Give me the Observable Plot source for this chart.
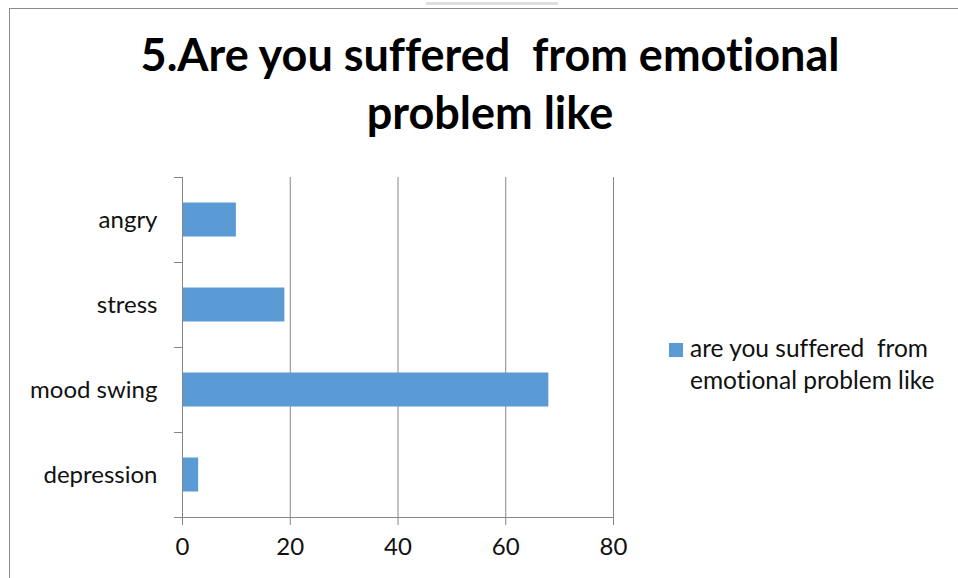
<!DOCTYPE html>
<html>
<head>
<meta charset="utf-8">
<script src="https://cdn.jsdelivr.net/npm/d3@7"></script>
<script src="https://cdn.jsdelivr.net/npm/@observablehq/plot@0.6"></script>
<style>
  html, body { margin: 0; padding: 0; background: #fff; }
  #chart { position: relative; width: 958px; height: 578px; overflow: hidden; font-family: Lato, "Open Sans", sans-serif; font-variant-ligatures: none; }
  #frame { position: absolute; left: 9px; top: 8px; width: 1000px; height: 600px; border: 1px solid #8c8c8c; box-sizing: border-box; }
  #tab { position: absolute; left: 426px; top: 2px; width: 132px; height: 3px; background: #dedede; }
  #title { position: absolute; left: 40px; width: 900px; top: 25px; text-align: center; font-weight: 700; font-size: 45px; line-height: 58px; color: #000; }
  #legend { position: absolute; left: 669px; top: 332px; font-size: 24.5px; line-height: 32px; color: #111; }
  #legend .swatch { position: absolute; left: 0; top: 11px; width: 14px; height: 14px; }
  #legend .label { margin-left: 21px; white-space: nowrap; }
  #chart svg { position: absolute; left: 0; top: 0; font-variant-ligatures: none; }
</style>
</head>
<body>
<div id="chart">
  <div id="frame"></div>
  <div id="tab"></div>
  <div id="title"></div>
  <div id="legend"><div class="swatch"></div><div class="label"></div></div>
</div>
<script>
// Survey answers: emotional problems reported
const titleLines = ["5.Are you suffered\u00a0\u00a0from emotional", "problem like"];
const seriesName = ["are you suffered\u00a0\u00a0from", "emotional problem like"];
const categories = ["angry", "stress", "mood swing", "depression"];
const counts = [10, 19, 68, 3];
const xTicks = [0, 20, 40, 60, 80];

const barColor = "#5B9BD5";
const lineColor = "#868686";

const rows = categories.map((name, i) => ({name, i, value: counts[i]}));

const chart = Plot.plot({
  width: 958,
  height: 578,
  marginLeft: 182,
  marginRight: 345,
  marginTop: 177,
  marginBottom: 61,
  style: {fontFamily: "Lato, 'Open Sans', sans-serif", fontSize: "24px", color: "#111", background: "transparent"},
  x: {domain: [0, 80]},
  y: {domain: [0, categories.length], reverse: true},
  marks: [
    Plot.gridX(xTicks.filter(v => v > 0), {stroke: lineColor, strokeOpacity: 1}),
    Plot.rectX(rows, {x1: 0, x2: "value", y1: d => d.i + 0.3, y2: d => d.i + 0.7, fill: barColor, insetTop: 0, insetBottom: 0}),
    Plot.ruleX([0], {stroke: lineColor}),
    Plot.ruleY([categories.length], {stroke: lineColor}),
    Plot.axisX({ticks: xTicks, tickSize: 8, tickPadding: 12, stroke: lineColor, fill: "#111", fontSize: 24, label: null}),
    Plot.axisY({ticks: d3.range(categories.length + 1), tickSize: 8, tickFormat: () => "", stroke: lineColor, label: null}),
    Plot.axisY({ticks: categories.map((_, i) => i + 0.5), tickSize: 0, tickPadding: 25,
      tickFormat: v => categories[Math.floor(v)], fill: "#111", fontSize: 24, label: null})
  ]
});

document.getElementById("chart").appendChild(chart);
document.getElementById("title").innerHTML = titleLines.join("<br>");
document.querySelector("#legend .swatch").style.background = barColor;
document.querySelector("#legend .label").innerHTML = seriesName.join("<br>");
</script>
</body>
</html>
